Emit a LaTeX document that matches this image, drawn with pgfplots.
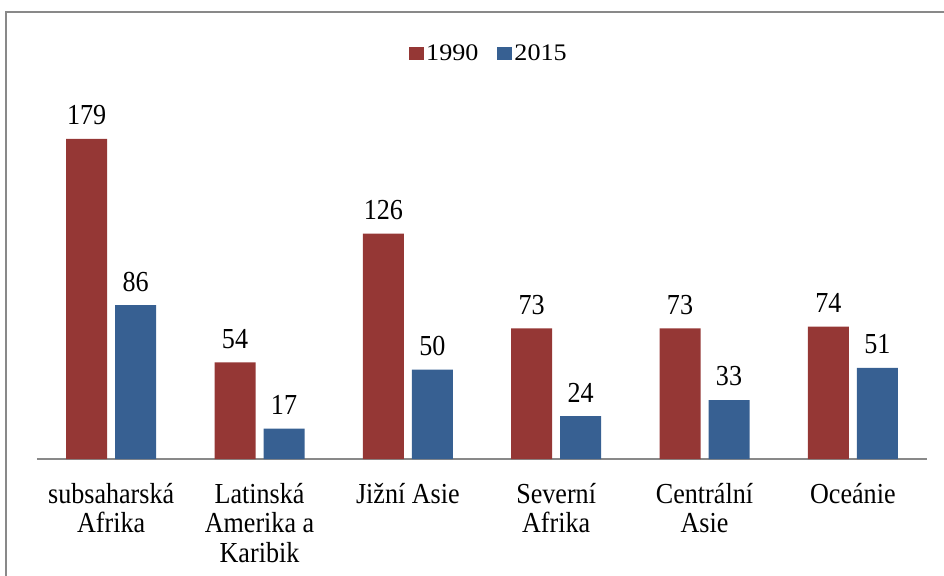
\documentclass[border=0pt]{standalone}
\usepackage{fontspec}
\setmainfont{Liberation Serif}[FakeStretch=0.9]
\newfontfamily\legfont{Liberation Serif}[FakeStretch=1.1]
\usepackage{pgfplots}
\pgfplotsset{compat=1.18}
\definecolor{c1990}{HTML}{953735}
\definecolor{c2015}{HTML}{376092}
\definecolor{framegray}{HTML}{898989}
\newcommand{\lblfont}{\fontsize{21.75}{22}\selectfont}

\begin{document}
\begin{tikzpicture}[x=0.75pt,y=0.75pt]
% picture measured in px of the reference (944 x 575)
\useasboundingbox (0,0) rectangle (944,575);
\draw[framegray, line width=1.5pt] (6,-10) -- (6,563) -- (950,563);
\begin{axis}[
  at={(27.75pt,87pt)}, anchor=south west,
  scale only axis,
  width=667.5pt, height=268.2pt,
  xmin=-0.5, xmax=5.5, ymin=0, ymax=200,
  ybar=6pt, bar width=30.75pt,
  axis x line*=bottom, axis y line=none,
  x axis line style={-, framegray, line width=1.5pt},
  major tick length=0pt,
  ytick=\empty,
  xtick={0,...,5},
  xticklabels={{subsaharská\\Afrika},{Latinská\\Amerika a\\Karibik},{Jižní Asie},{Severní\\Afrika},{Centrální\\Asie},{Oceánie}},
  xticklabel style={align=center, font=\lblfont, anchor=north, inner sep=0pt, yshift=-18pt},
  nodes near coords,
  /pgf/number format/assume math mode=true,
  every node near coord/.append style={font=\lblfont, anchor=base, yshift=10.5pt, black},
  legend style={at={(0.508,1.133)}, anchor=center, draw=none, fill=none,
    font=\legfont\fontsize{17.8}{18}\selectfont,
    /tikz/every even column/.append style={column sep=12pt}},
  legend columns=2,
  legend image code/.code={\fill[#1] (0pt,-4.5pt) rectangle (11pt,5pt);},
]
\addplot[fill=c1990, draw=none] coordinates {(0,179) (1,54) (2,126) (3,73) (4,73) (5,74)};
\addplot[fill=c2015, draw=none] coordinates {(0,86) (1,17) (2,50) (3,24) (4,33) (5,51)};
\legend{1990,2015}
\end{axis}
\end{tikzpicture}
\end{document}
